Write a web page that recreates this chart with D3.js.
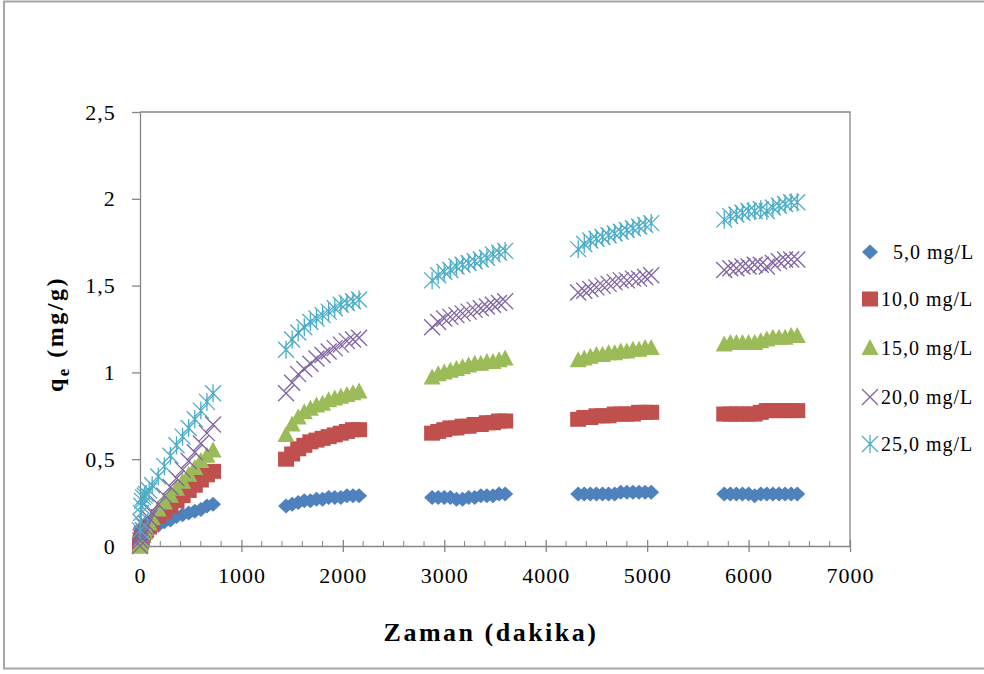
<!DOCTYPE html>
<html>
<head>
<meta charset="utf-8">
<script src="https://cdn.jsdelivr.net/npm/d3@7"></script>
<style>
  html, body { margin: 0; padding: 0; background: #fff; }
  svg { display: block; }
</style>
</head>
<body>
<svg id="chart" width="984" height="674"></svg>
<script>
// Sampling times (minutes): first day densely, then each following day hourly
const times = [
  0, 5, 10, 15, 20, 30, 45, 60, 90, 120, 180, 240, 300, 360, 420, 480, 540, 600, 660, 720,
  1440, 1500, 1560, 1620, 1680, 1740, 1800, 1860, 1920, 1980, 2040, 2100, 2160,
  2880, 2940, 3000, 3060, 3120, 3180, 3240, 3300, 3360, 3420, 3480, 3540, 3600,
  4320, 4380, 4440, 4500, 4560, 4620, 4680, 4740, 4800, 4860, 4920, 4980, 5040,
  5760, 5820, 5880, 5940, 6000, 6060, 6120, 6180, 6240, 6300, 6360, 6420, 6480
];

// Adsorbed amount q_e (mg/g) for each initial concentration
const q5 = [
  0.00, 0.02, 0.03, 0.04, 0.05, 0.06, 0.07, 0.08, 0.09, 0.10, 0.12, 0.14, 0.15, 0.17, 0.18, 0.19, 0.20, 0.21, 0.23, 0.24,
  0.23, 0.24, 0.25, 0.26, 0.26, 0.27, 0.27, 0.28, 0.28, 0.28, 0.29, 0.29, 0.29,
  0.28, 0.28, 0.28, 0.28, 0.27, 0.27, 0.28, 0.28, 0.29, 0.29, 0.29, 0.30, 0.30,
  0.30, 0.30, 0.30, 0.30, 0.30, 0.30, 0.30, 0.31, 0.31, 0.31, 0.31, 0.31, 0.31,
  0.30, 0.30, 0.30, 0.30, 0.30, 0.29, 0.30, 0.30, 0.30, 0.30, 0.30, 0.30, 0.30
];
const q10 = [
  0.00, 0.02, 0.03, 0.04, 0.05, 0.06, 0.08, 0.09, 0.11, 0.13, 0.17, 0.20, 0.23, 0.26, 0.29, 0.32, 0.35, 0.38, 0.41, 0.43,
  0.50, 0.53, 0.56, 0.58, 0.60, 0.61, 0.62, 0.63, 0.64, 0.65, 0.66, 0.67, 0.67,
  0.65, 0.66, 0.67, 0.68, 0.68, 0.69, 0.69, 0.70, 0.70, 0.71, 0.71, 0.72, 0.72,
  0.73, 0.74, 0.74, 0.75, 0.75, 0.75, 0.76, 0.76, 0.76, 0.76, 0.77, 0.77, 0.77,
  0.76, 0.76, 0.76, 0.76, 0.76, 0.76, 0.77, 0.78, 0.78, 0.78, 0.78, 0.78, 0.78
];
const q15 = [
  0.00, 0.01, 0.02, 0.03, 0.04, 0.06, 0.08, 0.10, 0.13, 0.16, 0.21, 0.25, 0.29, 0.33, 0.37, 0.41, 0.45, 0.49, 0.52, 0.55,
  0.64, 0.70, 0.74, 0.77, 0.79, 0.81, 0.82, 0.84, 0.85, 0.86, 0.87, 0.88, 0.89,
  0.97, 0.99, 1.00, 1.01, 1.02, 1.03, 1.04, 1.05, 1.05, 1.06, 1.06, 1.07, 1.08,
  1.07, 1.08, 1.09, 1.10, 1.10, 1.11, 1.11, 1.12, 1.12, 1.13, 1.13, 1.14, 1.14,
  1.16, 1.17, 1.17, 1.17, 1.17, 1.17, 1.18, 1.19, 1.20, 1.20, 1.20, 1.21, 1.21
];
const q20 = [
  0.00, 0.03, 0.05, 0.06, 0.07, 0.09, 0.11, 0.13, 0.16, 0.19, 0.24, 0.29, 0.34, 0.39, 0.44, 0.49, 0.54, 0.59, 0.65, 0.70,
  0.88, 0.94, 0.99, 1.02, 1.05, 1.08, 1.10, 1.12, 1.14, 1.16, 1.18, 1.19, 1.20,
  1.26, 1.29, 1.31, 1.32, 1.33, 1.34, 1.35, 1.36, 1.37, 1.38, 1.39, 1.40, 1.41,
  1.46, 1.47, 1.48, 1.49, 1.50, 1.51, 1.52, 1.53, 1.53, 1.54, 1.54, 1.55, 1.56,
  1.59, 1.60, 1.60, 1.61, 1.61, 1.62, 1.62, 1.61, 1.63, 1.64, 1.65, 1.65, 1.65
];
const q25 = [
  0.09, 0.14, 0.19, 0.23, 0.26, 0.28, 0.29, 0.30, 0.32, 0.35, 0.40, 0.46, 0.52, 0.58, 0.63, 0.68, 0.73, 0.78, 0.83, 0.88,
  1.13, 1.19, 1.23, 1.26, 1.29, 1.31, 1.33, 1.35, 1.37, 1.39, 1.40, 1.41, 1.42,
  1.53, 1.56, 1.58, 1.59, 1.61, 1.62, 1.63, 1.64, 1.65, 1.66, 1.68, 1.69, 1.70,
  1.71, 1.74, 1.76, 1.77, 1.78, 1.79, 1.80, 1.81, 1.82, 1.83, 1.84, 1.85, 1.86,
  1.88, 1.90, 1.91, 1.92, 1.93, 1.93, 1.94, 1.93, 1.95, 1.96, 1.97, 1.98, 1.98
];

const seriesNames = ["5,0 mg/L", "10,0 mg/L", "15,0 mg/L", "20,0 mg/L", "25,0 mg/L"];
const seriesValues = [q5, q10, q15, q20, q25];
const seriesColors = ["#4F81BD", "#C0504D", "#9BBB59", "#8064A2", "#4BACC6"];
const seriesShapes = ["diamond", "square", "triangle", "cross", "asterisk"];

const xTicks = [0, 1000, 2000, 3000, 4000, 5000, 6000, 7000];
const yTicks = [0, 0.5, 1, 1.5, 2, 2.5];

const svg = d3.select("#chart");
const plot = { left: 140, right: 850, top: 112, bottom: 546 };
const serif = "'Liberation Serif', 'Times New Roman', serif";
const axisGray = "#868686";

// outer chart frame
svg.append("rect")
  .attr("x", 4).attr("y", 1.5).attr("width", 1000).attr("height", 667)
  .attr("fill", "#fff").attr("stroke", "#a6a6a6").attr("stroke-width", 2);

const x = d3.scaleLinear().domain([0, 7000]).range([plot.left, plot.right]);
const y = d3.scaleLinear().domain([0, 2.5]).range([plot.bottom, plot.top]);

// plot-area frame (top and right edges)
svg.append("path")
  .attr("d", `M${plot.left},${plot.top}H${plot.right}V${plot.bottom}`)
  .attr("fill", "none").attr("stroke", axisGray).attr("stroke-width", 1.3);

// x axis: major ticks crossing the line, minor ticks pointing up
const fmt = d => String(d).replace(".", ",");
const xAxis = svg.append("g").attr("transform", `translate(0,${plot.bottom})`)
  .call(d3.axisBottom(x).tickValues(xTicks).tickFormat(fmt).tickSizeInner(6).tickSizeOuter(0).tickPadding(18));
const minor = d3.range(0, 7001, 200).filter(v => v % 1000 !== 0);
svg.append("g").selectAll("line").data(minor).join("line")
  .attr("x1", d => x(d)).attr("x2", d => x(d))
  .attr("y1", plot.bottom).attr("y2", plot.bottom - 5)
  .attr("stroke", axisGray).attr("stroke-width", 1);
xAxis.selectAll(".tick line").attr("y1", -6);

const yAxis = svg.append("g").attr("transform", `translate(${plot.left},0)`)
  .call(d3.axisLeft(y).tickValues(yTicks).tickFormat(fmt).tickSizeInner(8).tickSizeOuter(0).tickPadding(14));

[xAxis, yAxis].forEach(g => {
  g.select(".domain").attr("stroke", axisGray).attr("stroke-width", 1.3);
  g.selectAll(".tick line").attr("stroke", axisGray).attr("stroke-width", 1.3);
  g.selectAll(".tick text").attr("fill", "#000").style("font-family", serif).style("font-size", "22px");
});
yAxis.selectAll(".tick text").attr("dx", "-0.1em").style("letter-spacing", "1px");
xAxis.selectAll(".tick text").attr("dy", "0.6em").style("letter-spacing", "1px");

// axis titles
svg.append("text")
  .attr("x", 491).attr("y", 641).attr("text-anchor", "middle")
  .style("font-family", serif).style("font-size", "26px").style("font-weight", "bold")
  .style("letter-spacing", "2.5px")
  .text("Zaman (dakika)");

const yTitle = svg.append("text")
  .attr("transform", "translate(63,334) rotate(-90)")
  .attr("text-anchor", "middle")
  .style("font-family", serif).style("font-size", "24px").style("font-weight", "bold")
  .style("letter-spacing", "2.5px");
yTitle.append("tspan").text("q");
yTitle.append("tspan").attr("font-size", "17px").attr("dy", 6).text("e");
yTitle.append("tspan").attr("dy", -6).text(" (mg/g)");

// marker shapes, each drawn around (0,0)
function drawMarker(g, shape, color) {
  if (shape === "diamond") {
    g.append("path").attr("d", "M0,-7.5L8,0L0,7.5L-8,0Z").attr("fill", color);
  } else if (shape === "square") {
    g.append("rect").attr("x", -8).attr("y", -7.5).attr("width", 16).attr("height", 15).attr("fill", color);
  } else if (shape === "triangle") {
    g.append("path").attr("d", "M0,-9L8.5,7L-8.5,7Z").attr("fill", color);
  } else if (shape === "cross") {
    g.append("path").attr("d", "M-8,-8L8,8M-8,8L8,-8").attr("stroke", color).attr("stroke-width", 1.3).attr("fill", "none");
  } else {
    g.append("path").attr("d", "M-8,-8L8,8M-8,8L8,-8M0,-9V9").attr("stroke", color).attr("stroke-width", 1.3).attr("fill", "none");
  }
}

// scatter points
seriesValues.forEach((vals, i) => {
  const g = svg.append("g").attr("class", "series");
  vals.forEach((v, j) => {
    const m = g.append("g").attr("transform", `translate(${x(times[j])},${y(v)})`);
    drawMarker(m, seriesShapes[i], seriesColors[i]);
  });
});

// legend
const legendY = [252, 299, 348, 397, 444];
seriesNames.forEach((name, i) => {
  const m = svg.append("g").attr("transform", `translate(870,${legendY[i]})`);
  drawMarker(m, seriesShapes[i], seriesColors[i]);
  svg.append("text")
    .attr("x", i === 0 ? 893 : 881).attr("y", legendY[i] + 7)
    .style("font-family", serif).style("font-size", "20px")
    .style("letter-spacing", "1px")
    .attr("fill", "#000")
    .text(name);
});
</script>
</body>
</html>
